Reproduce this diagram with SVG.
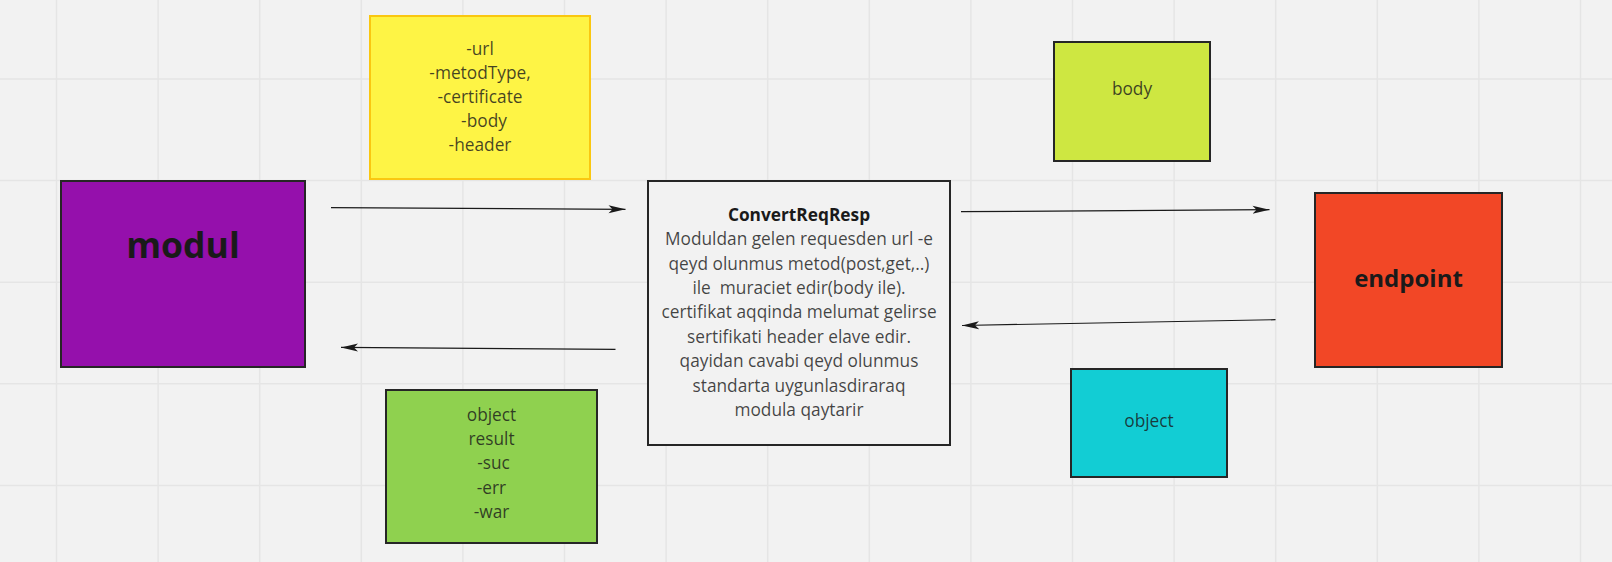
<svg xmlns="http://www.w3.org/2000/svg" width="1612" height="562" viewBox="0 0 1612 562">
  <style>
    .grid line { stroke: #e5e5e5; stroke-width: 1.5; }
    .t { font-family: "Open Sans", "Liberation Sans", sans-serif; font-size: 17.3px; fill: #1a1a1a; fill-opacity: 0.82; text-anchor: middle; }
    .b { font-family: "Open Sans", "Liberation Sans", sans-serif; font-weight: bold; fill: #1a1a1a; text-anchor: middle; }
    .box { stroke: #262626; stroke-width: 2; }
    .conn line { stroke: #1a1a1a; stroke-width: 1.2; fill: none; }
  </style>
  <defs>
    <marker id="arr" markerUnits="userSpaceOnUse" markerWidth="20" markerHeight="10" refX="17" refY="4" orient="auto" viewBox="0 0 20 8">
      <path d="M0,0 L17,4 L0,8 L4,4 Z" fill="#1a1a1a"/>
    </marker>
  </defs>
  <rect x="0" y="0" width="1612" height="562" fill="#f2f2f2"/>
  <g class="grid">
    <line x1="56.5" y1="0" x2="56.5" y2="562"/>
    <line x1="158.1" y1="0" x2="158.1" y2="562"/>
    <line x1="259.7" y1="0" x2="259.7" y2="562"/>
    <line x1="361.3" y1="0" x2="361.3" y2="562"/>
    <line x1="462.9" y1="0" x2="462.9" y2="562"/>
    <line x1="564.5" y1="0" x2="564.5" y2="562"/>
    <line x1="666.1" y1="0" x2="666.1" y2="562"/>
    <line x1="767.7" y1="0" x2="767.7" y2="562"/>
    <line x1="869.3" y1="0" x2="869.3" y2="562"/>
    <line x1="970.9" y1="0" x2="970.9" y2="562"/>
    <line x1="1072.5" y1="0" x2="1072.5" y2="562"/>
    <line x1="1174.1" y1="0" x2="1174.1" y2="562"/>
    <line x1="1275.7" y1="0" x2="1275.7" y2="562"/>
    <line x1="1377.3" y1="0" x2="1377.3" y2="562"/>
    <line x1="1478.9" y1="0" x2="1478.9" y2="562"/>
    <line x1="1580.5" y1="0" x2="1580.5" y2="562"/>
    <line x1="0" y1="79" x2="1612" y2="79"/>
    <line x1="0" y1="180.6" x2="1612" y2="180.6"/>
    <line x1="0" y1="282.2" x2="1612" y2="282.2"/>
    <line x1="0" y1="383.8" x2="1612" y2="383.8"/>
    <line x1="0" y1="485.4" x2="1612" y2="485.4"/>
  </g>

  <g id="modul">
    <rect class="box" x="61" y="181" width="244" height="186" fill="#9510ac"/>
    <text class="b" x="183" y="258" font-size="35.5">modul</text>
  </g>

  <g id="params">
    <rect x="370" y="16" width="220" height="163" fill="#fef445" stroke="#fac710" stroke-width="2"/>
    <text class="t" x="480" y="54.5">-url</text>
    <text class="t" x="480" y="78.5">-metodType,</text>
    <text class="t" x="480" y="102.5">-certificate</text>
    <text class="t" x="484" y="126.5">-body</text>
    <text class="t" x="480" y="150.5">-header</text>
  </g>

  <g id="convert">
    <rect class="box" x="648" y="181" width="302" height="264" fill="#f2f2f2"/>
    <text class="b" x="799" y="220.7" font-size="17.3">ConvertReqResp</text>
    <text class="t" x="799" y="245.1">Moduldan gelen requesden url -e</text>
    <text class="t" x="799" y="269.5">qeyd olunmus metod(post,get,..)</text>
    <text class="t" x="799" y="293.9" xml:space="preserve">ile  muraciet edir(body ile).</text>
    <text class="t" x="799" y="318.3">certifikat aqqinda melumat gelirse</text>
    <text class="t" x="799" y="342.7">sertifikati header elave edir.</text>
    <text class="t" x="799" y="367.1">qayidan cavabi qeyd olunmus</text>
    <text class="t" x="799" y="391.5">standarta uygunlasdiraraq</text>
    <text class="t" x="799" y="415.9">modula qaytarir</text>
  </g>

  <g id="result">
    <rect class="box" x="386" y="390" width="211" height="153" fill="#8fd14f"/>
    <text class="t" x="491.5" y="420.8">object</text>
    <text class="t" x="491.5" y="445.1">result</text>
    <text class="t" x="493.5" y="469.4">-suc</text>
    <text class="t" x="491.5" y="493.7">-err</text>
    <text class="t" x="491.5" y="518">-war</text>
  </g>

  <g id="body">
    <rect class="box" x="1054" y="42" width="156" height="119" fill="#cee741"/>
    <text class="t" x="1132" y="94.5">body</text>
  </g>

  <g id="endpoint">
    <rect class="box" x="1315" y="193" width="187" height="174" fill="#f24726"/>
    <text class="b" x="1408.5" y="286.5" font-size="24">endpoint</text>
  </g>

  <g id="object">
    <rect class="box" x="1071" y="369" width="156" height="108" fill="#12cdd4"/>
    <text class="t" x="1149" y="427">object</text>
  </g>

  <g class="conn" id="connectors">
    <line x1="331" y1="207.7" x2="625.5" y2="209.3" marker-end="url(#arr)"/>
    <line x1="615.5" y1="349.4" x2="341" y2="347.4" marker-end="url(#arr)"/>
    <line x1="961" y1="211.7" x2="1269.5" y2="209.7" marker-end="url(#arr)"/>
    <line x1="1275.5" y1="319.7" x2="962" y2="325.5" marker-end="url(#arr)"/>
  </g>
</svg>
